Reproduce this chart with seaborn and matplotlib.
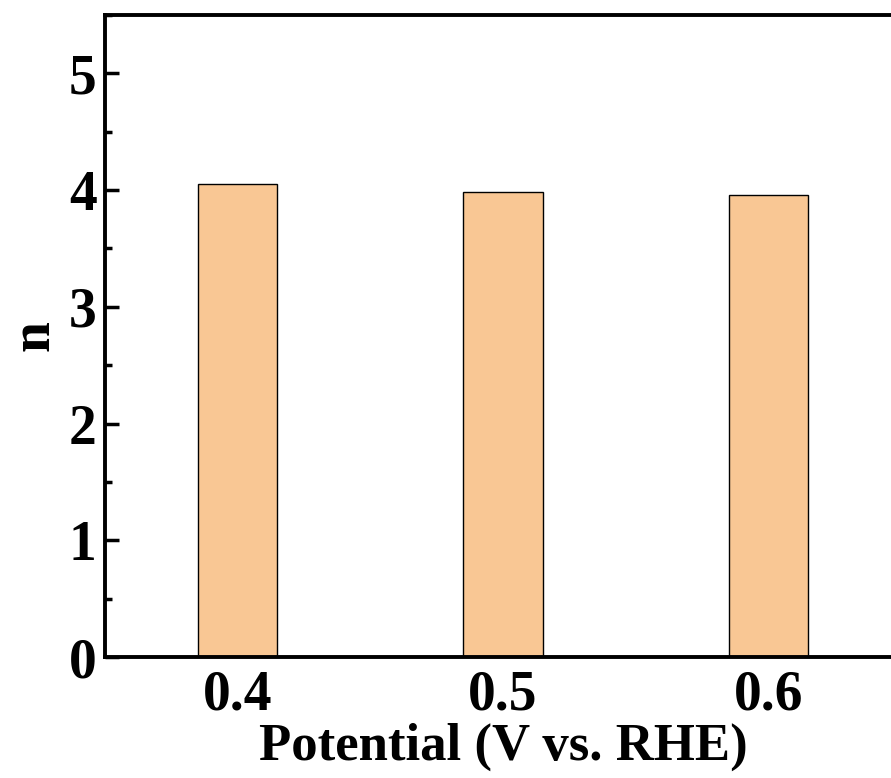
import matplotlib
matplotlib.use("Agg")
import matplotlib.pyplot as plt
import seaborn as sns
import pandas as pd
from matplotlib.ticker import MultipleLocator

potentials = ["0.4", "0.5", "0.6"]
n_values = [4.05, 3.98, 3.96]

df = pd.DataFrame({"Potential": potentials, "n": n_values})

sns.set_style("ticks")
plt.rcParams['font.family'] = ['Liberation Serif', 'DejaVu Serif']
plt.rcParams['font.weight'] = 'bold'
plt.rcParams['text.color'] = 'black'
plt.rcParams['axes.labelcolor'] = 'black'
plt.rcParams['xtick.color'] = 'black'
plt.rcParams['ytick.color'] = 'black'

fig = plt.figure(figsize=(8.91, 7.78), dpi=100)
ax = fig.add_axes([105/891, (778-657)/778, 796/891, 642/778])

sns.barplot(data=df, x="Potential", y="n", ax=ax, color="#F9C794",
            saturation=1, width=0.3, edgecolor="black", linewidth=1.0)

ax.set_xlim(-0.5, 2.5)
ax.set_ylim(0, 5.5)
ax.yaxis.set_major_locator(MultipleLocator(1))
ax.yaxis.set_minor_locator(MultipleLocator(0.5))
ax.tick_params(axis='y', which='major', direction='in', length=10, width=2.5, labelsize=40, pad=6, colors='black')
ax.tick_params(axis='y', which='minor', direction='in', length=5, width=2.5, colors='black')
ax.tick_params(axis='x', which='both', length=0, labelsize=40, pad=9, colors='black')
for lab in ax.get_xticklabels() + ax.get_yticklabels():
    lab.set_fontweight('bold')
for s in ax.spines.values():
    s.set_linewidth(2.8)
    s.set_color('black')

ax.set_xlabel("Potential (V vs. RHE)", fontsize=38, fontweight='bold', labelpad=1, color='black')
ax.set_ylabel("n", fontsize=40, fontweight='bold', labelpad=6, color='black')

fig.savefig("out.png", dpi=100)
